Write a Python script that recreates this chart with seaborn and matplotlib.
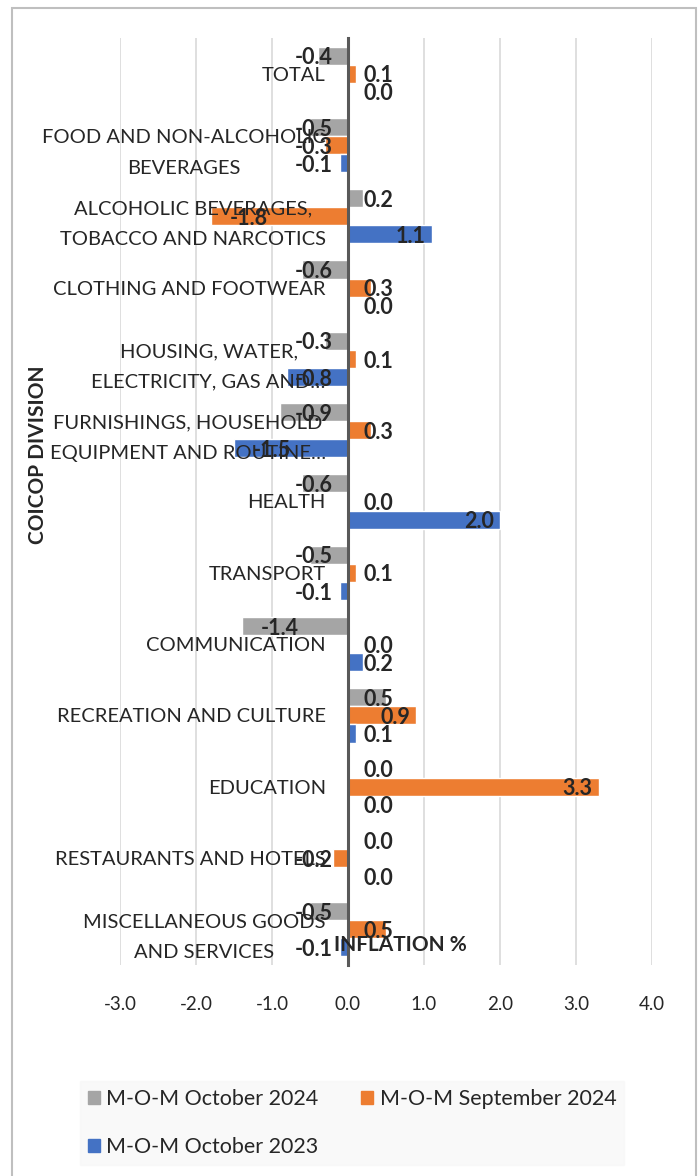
import matplotlib
matplotlib.use("Agg")
import pandas as pd
import matplotlib.pyplot as plt
import seaborn as sns
from matplotlib.patches import Rectangle

# COICOP divisions, top to bottom
categories = [
    "TOTAL",
    "FOOD AND NON-ALCOHOLIC\nBEVERAGES",
    "ALCOHOLIC BEVERAGES,\nTOBACCO AND NARCOTICS",
    "CLOTHING AND FOOTWEAR",
    "HOUSING, WATER,\nELECTRICITY, GAS AND…",
    "FURNISHINGS, HOUSEHOLD\nEQUIPMENT AND ROUTINE…",
    "HEALTH",
    "TRANSPORT",
    "COMMUNICATION",
    "RECREATION AND CULTURE",
    "EDUCATION",
    "RESTAURANTS AND HOTELS",
    "MISCELLANEOUS GOODS\nAND SERVICES",
]
series_names = ["M-O-M October 2024", "M-O-M September 2024", "M-O-M October 2023"]
oct_2024 = [-0.4, -0.5, 0.2, -0.6, -0.3, -0.9, -0.6, -0.5, -1.4, 0.5, 0.0, 0.0, -0.5]
sep_2024 = [0.1, -0.3, -1.8, 0.3, 0.1, 0.3, 0.0, 0.1, 0.0, 0.9, 3.3, -0.2, 0.5]
oct_2023 = [0.0, -0.1, 1.1, 0.0, -0.8, -1.5, 2.0, -0.1, 0.2, 0.1, 0.0, 0.0, -0.1]
x_ticks = [-3.0, -2.0, -1.0, 0.0, 1.0, 2.0, 3.0, 4.0]
colors = ["#A5A5A5", "#ED7D31", "#4472C4"]

df = pd.DataFrame({
    "division": categories * 3,
    "series": [series_names[0]] * 13 + [series_names[1]] * 13 + [series_names[2]] * 13,
    "value": oct_2024 + sep_2024 + oct_2023,
})

sns.set_style("white")
plt.rcParams["font.family"] = ["Lato", "DejaVu Sans"]

fig = plt.figure(figsize=(6.99, 11.76), dpi=100)
ax = fig.add_axes([120 / 699, 1 - 965 / 1176, 532 / 699, 927 / 1176])

sns.barplot(data=df, x="value", y="division", hue="series", order=categories,
            hue_order=series_names, palette=colors, orient="h", width=0.76,
            saturation=1, ax=ax, legend=False)

ax.set_xlim(-3, 4)
ax.set_xticks(x_ticks)
ax.set_xticklabels([f"{t:.1f}" for t in x_ticks], fontsize=13.5)
# gridlines drawn behind the bars, axis labels kept on top
ax.grid(False)
for t in x_ticks:
    if t != 0:
        ax.axvline(t, color="#D9D9D9", linewidth=1.2, zorder=0)
ax.set_axisbelow(False)
ax.yaxis.set_zorder(7)
for s in ["top", "right", "bottom"]:
    ax.spines[s].set_visible(False)
ax.spines["left"].set_position(("data", 0))
ax.spines["left"].set_color("#595959")
ax.spines["left"].set_linewidth(2.2)
ax.spines["left"].set_zorder(5)
ax.tick_params(axis="x", length=0, pad=22)
ax.tick_params(axis="y", length=0, pad=16, labelsize=14.5)
for lbl in ax.get_yticklabels():
    lbl.set_multialignment("center")
    lbl.set_linespacing(1.95)
ax.set_xlabel("")
ax.set_ylabel("")

# value labels
for cont, vals in zip(ax.containers, [oct_2024, sep_2024, oct_2023]):
    for bar, v in zip(cont, vals):
        y = bar.get_y() + bar.get_height() / 2 + 0.03
        kw = dict(va="center", fontsize=15.5, fontweight="bold", zorder=8)
        if v < 0:
            ax.text(min(-0.2, v + 0.75), y, f"{v:.1f}", ha="right", **kw)
        elif v > 0.8:
            ax.text(v - 0.08, y, f"{v:.1f}", ha="right", **kw)
        else:
            ax.text(0.2, y, f"{v:.1f}", ha="left", **kw)

fig.text(400 / 699, 1 - 945 / 1176, "INFLATION %", ha="center", va="center",
         fontsize=15, fontweight="bold")
fig.text(38 / 699, 1 - 455 / 1176, "COICOP DIVISION", ha="center", va="center",
         rotation=90, fontsize=15, fontweight="bold")

# legend, ordered so rows read: Oct 2024, Sep 2024 / Oct 2023
handles = [Rectangle((0, 0), 1, 1, color=c) for c in colors]
order = [0, 2, 1]
leg = fig.legend([handles[i] for i in order], [series_names[i] for i in order],
                 loc="center", ncol=2, bbox_to_anchor=(352 / 699, 1 - 1123 / 1176),
                 fontsize=15.5, frameon=True, fancybox=False, handlelength=0.55,
                 handleheight=0.55, handletextpad=0.3, columnspacing=2.0,
                 labelspacing=1.3, borderpad=0.35, borderaxespad=0)
leg.get_frame().set_facecolor("#F8F8F8")
leg.get_frame().set_edgecolor("#F8F8F8")

# chart border
fig.patches.append(Rectangle((12 / 699, -0.01), 684 / 699, 1.01 - 8 / 1176,
                             transform=fig.transFigure, fill=False,
                             edgecolor="#BFBFBF", linewidth=1.5))

fig.savefig("out.png", dpi=100)
